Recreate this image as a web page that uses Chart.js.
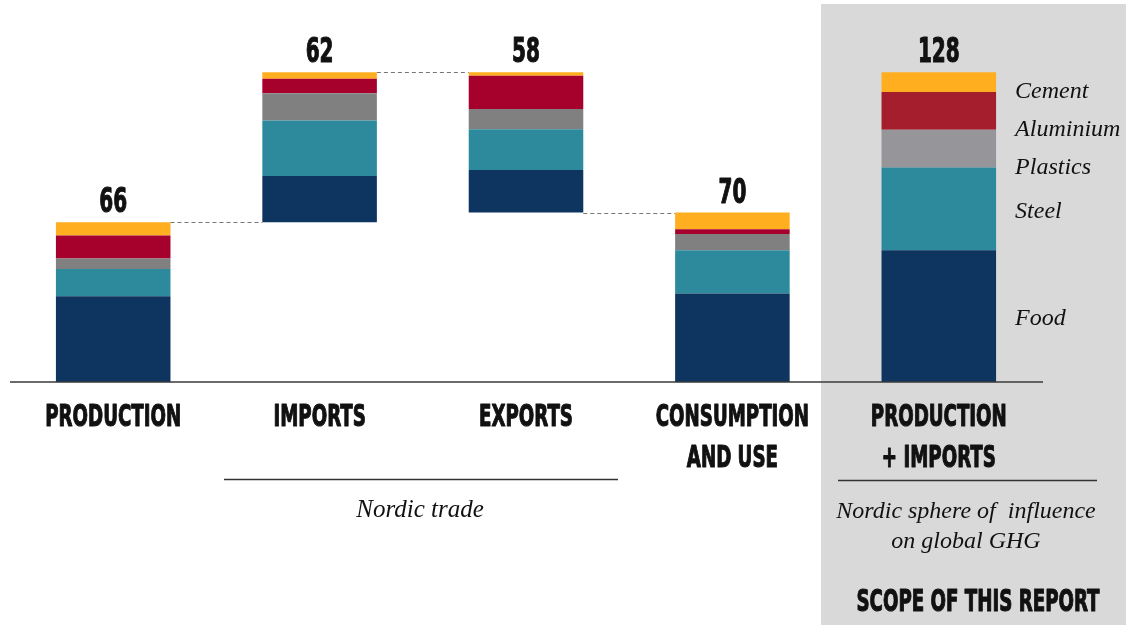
<!DOCTYPE html>
<html>
<head>
<meta charset="utf-8">
<title>Nordic GHG footprint by material</title>
<script src="https://cdn.jsdelivr.net/npm/chart.js@4.4.1/dist/chart.umd.min.js"></script>
<style>
  html, body { margin: 0; padding: 0; background: #fff; }
  #chart { display: block; }
</style>
</head>
<body>
<canvas id="chart" width="1126" height="625"></canvas>
<script>
"use strict";

// stages of the footprint, bottom labels split over lines
var stages = [["PRODUCTION"], ["IMPORTS"], ["EXPORTS"], ["CONSUMPTION", "AND USE"], ["PRODUCTION", "+ IMPORTS"]];
var materials = ["Food", "Steel", "Plastics", "Aluminium", "Cement"];

// Mt CO2e per material, one value per stage
var food      = [35.4, 19.1, 17.6, 36.6, 54.4];
var steel     = [11.3, 23.0, 16.8, 17.8, 34.2];
var plastics  = [4.3, 11.2, 8.4, 6.8, 15.6];
var aluminium = [9.5, 6.0, 13.8, 1.9, 15.6];
var cement    = [5.5, 2.7, 1.4, 6.9, 8.2];

var totals = [66, 62, 58, 70, 128];

// imports sit on top of production, exports hang down to consumption
var floatBase = [0, totals[0], totals[3], 0, 0];

var navy = "#0e3560", teal = "#2c8a9c", grey = "#808080", crimson = "#a6002c", amber = "#ffae1f";
var greyScope = "#96969a", crimsonScope = "#a51e2e";

function perStage(c, lastColor) {
    return [c, c, c, c, lastColor || c];
}

var capsFont = "'Liberation Sans Narrow', 'DejaVu Sans Condensed', 'Roboto', sans-serif";
var serifFont = "'Liberation Serif', 'DejaVu Serif', serif";
var squeeze = 1;

// bold caps in a narrow display cut: squeeze horizontally, thicken the strokes
function capsText(ctx, text, x, y, size) {
    ctx.save();
    ctx.font = "bold " + size + "px " + capsFont;
    ctx.textAlign = "center";
    ctx.textBaseline = "alphabetic";
    ctx.translate(x, y);
    ctx.scale(squeeze, 1);
    ctx.fillText(text, 0, 0);
    ctx.lineWidth = 1.1;
    ctx.strokeStyle = ctx.fillStyle;
    ctx.lineJoin = "round";
    ctx.strokeText(text, 0, 0);
    ctx.restore();
}

function serifText(ctx, text, x, y, size, align) {
    ctx.font = "italic " + size + "px " + serifFont;
    ctx.textAlign = align || "center";
    ctx.textBaseline = "alphabetic";
    ctx.fillText(text, x, y);
}

var decorations = {
    id: "decorations",
    beforeDraw: function (chart) {
        var ctx = chart.ctx;
        ctx.save();
        ctx.fillStyle = "#fff";
        ctx.fillRect(0, 0, chart.width, chart.height);
        // shaded scope panel
        ctx.fillStyle = "#d9d9d9";
        ctx.fillRect(821, 4, chart.width - 821, chart.height - 4);
        ctx.restore();
    },
    afterDatasetsDraw: function (chart) {
        var ctx = chart.ctx;
        var xs = chart.scales.x, ys = chart.scales.y;
        var bars = chart.getDatasetMeta(1).data;
        var area = chart.chartArea;

        ctx.save();
        ctx.font = "bold 30px " + capsFont;
        squeeze = 136 / ctx.measureText("PRODUCTION").width;

        // connectors between the waterfall steps
        ctx.strokeStyle = "#777";
        ctx.lineWidth = 1.2;
        ctx.setLineDash([4, 3]);
        var steps = [[0, 1, totals[0]], [1, 2, totals[0] + totals[1]], [2, 3, totals[3]]];
        steps.forEach(function (s) {
            var a = bars[s[0]], b = bars[s[1]];
            var y = Math.round(ys.getPixelForValue(s[2])) + 0.5;
            ctx.beginPath();
            ctx.moveTo(a.x + a.width / 2, y);
            ctx.lineTo(b.x - b.width / 2, y);
            ctx.stroke();
        });
        ctx.setLineDash([]);

        // baseline
        ctx.strokeStyle = "#3a3a3a";
        ctx.lineWidth = 1.5;
        ctx.beginPath();
        ctx.moveTo(area.left, ys.getPixelForValue(0));
        ctx.lineTo(area.right + 1, ys.getPixelForValue(0));
        ctx.stroke();

        ctx.fillStyle = "#111";

        // totals above each bar
        totals.forEach(function (t, i) {
            var top = floatBase[i] + t;
            capsText(ctx, String(t), xs.getPixelForValue(i), ys.getPixelForValue(top) - 10, 33);
        });

        // stage names
        stages.forEach(function (lines, i) {
            lines.forEach(function (line, j) {
                capsText(ctx, line, xs.getPixelForValue(i), 426 + j * 41, 30);
            });
        });

        // material names beside the scope bar
        var last = bars[4];
        var lx = last.x + last.width / 2 + 19;
        var labelY = [325, 218, 174, 136, 98];
        materials.forEach(function (m, k) {
            serifText(ctx, m, lx, labelY[k], 24, "left");
        });

        // brackets under the trade and scope stages
        ctx.strokeStyle = "#333";
        ctx.lineWidth = 1.3;
        ctx.beginPath();
        ctx.moveTo(224, 479.5);
        ctx.lineTo(618, 479.5);
        ctx.moveTo(838, 480.5);
        ctx.lineTo(1097, 480.5);
        ctx.stroke();

        serifText(ctx, "Nordic trade", 420, 517, 25);
        serifText(ctx, "Nordic sphere of  influence", 966, 518, 24);
        serifText(ctx, "on global GHG", 966, 548, 24);

        capsText(ctx, "SCOPE OF THIS REPORT", 978, 611, 30);
        ctx.restore();
    }
};

var ctx = document.getElementById("chart").getContext("2d");

var chart = new Chart(ctx, {
    type: "bar",
    data: {
        labels: stages,
        datasets: [
            { label: "base", data: floatBase, backgroundColor: "rgba(0,0,0,0)" },
            { label: materials[0], data: food, backgroundColor: perStage(navy) },
            { label: materials[1], data: steel, backgroundColor: perStage(teal) },
            { label: materials[2], data: plastics, backgroundColor: perStage(grey, greyScope) },
            { label: materials[3], data: aluminium, backgroundColor: perStage(crimson, crimsonScope) },
            { label: materials[4], data: cement, backgroundColor: perStage(amber) }
        ]
    },
    options: {
        responsive: false,
        devicePixelRatio: 1,
        animation: false,
        events: [],
        layout: { padding: { left: 10, right: 84, top: 19, bottom: 243 } },
        datasets: {
            bar: { categoryPercentage: 1, barPercentage: 0.555, borderWidth: 0 }
        },
        plugins: {
            legend: { display: false },
            tooltip: { enabled: false }
        },
        scales: {
            x: { stacked: true, display: false },
            y: { stacked: true, display: false, min: 0, max: 150 }
        }
    },
    plugins: [decorations]
});
</script>
</body>
</html>
